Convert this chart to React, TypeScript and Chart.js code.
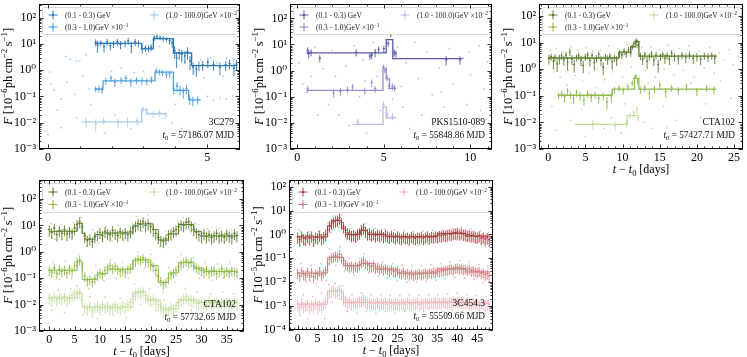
import React, { useEffect, useRef } from "react";
import { Chart, registerables } from "chart.js";

Chart.register(...registerables);

const SERIF = '"Liberation Serif", "DejaVu Serif", "Times New Roman", serif';

// ================= Panel 1 : 3C279 =================
// [t, flux, relative error]
const P1_S1: number[][] = [
  [1.5, 11.5, 0.3], [1.56, 9, 0.5], [1.66, 11, 0.25], [1.76, 8, 0.4], [1.86, 12, 0.3], [1.96, 8.5, 0.35],
  [2.06, 10, 0.3], [2.18, 12, 0.3], [2.28, 9.5, 0.35], [2.42, 10.5, 0.3], [2.52, 13, 0.3], [2.62, 8, 0.45],
  [2.74, 12, 0.3], [2.84, 10.5, 0.3], [2.96, 6.5, 0.35], [3.06, 7, 0.3], [3.16, 6.8, 0.3], [3.24, 7.5, 0.3],
  [3.34, 17, 0.25], [3.42, 19, 0.2], [3.52, 17, 0.2], [3.62, 16, 0.25], [3.72, 15, 0.2], [3.82, 13, 0.3],
  [3.9, 11, 0.35], [3.98, 5.5, 0.5], [4.04, 3, 0.6], [4.12, 4.5, 0.45], [4.2, 4, 0.5], [4.3, 3.5, 0.5],
  [4.38, 5, 0.5], [4.46, 2.2, 0.55], [4.56, 1.3, 0.5], [4.66, 1.1, 0.5], [4.74, 1.5, 0.4], [4.86, 1.6, 0.4],
  [5.02, 2.0, 0.4], [5.2, 1.6, 0.4], [5.4, 1.3, 0.5], [5.58, 1.6, 0.4], [5.7, 1.8, 0.4], [5.84, 1.2, 0.5],
  [5.92, 1.7, 0.4],
];
const P1_S1_EDGES = [1.47, 2.94, 3.31, 3.94, 4.51, 5.95];
const P1_S1_LEVELS = [10.5, 6.5, 16, 4.5, 1.5];
const P1_S2: number[][] = [
  [1.5, 0.19, 0.25], [1.6, 0.2, 0.3], [1.7, 0.18, 0.3], [1.82, 0.4, 0.3], [1.98, 0.5, 0.3], [2.1, 0.35, 0.35],
  [2.3, 0.42, 0.3], [2.45, 0.5, 0.3], [2.6, 0.36, 0.35], [2.78, 0.42, 0.3], [2.95, 0.4, 0.35], [3.1, 0.38, 0.3],
  [3.25, 0.45, 0.3], [3.4, 0.95, 0.25], [3.5, 0.85, 0.25], [3.6, 0.8, 0.25], [3.72, 0.7, 0.3], [3.82, 0.72, 0.3],
  [3.95, 0.2, 0.4], [4.05, 0.25, 0.4], [4.15, 0.18, 0.4], [4.25, 0.15, 0.45], [4.35, 0.2, 0.4], [4.45, 0.08, 0.4],
  [4.55, 0.07, 0.4], [4.7, 0.075, 0.35],
];
const P1_S2_EDGES = [1.47, 1.73, 3.36, 3.94, 4.42, 4.8];
const P1_S2_LEVELS = [0.19, 0.39, 0.85, 0.17, 0.074];
const P1_S3: number[][] = [
  [1.2, 0.011, 0.4], [1.5, 0.009, 0.5], [1.75, 0.012, 0.3], [2.2, 0.01, 0.4], [2.5, 0.011, 0.4], [2.8, 0.012, 0.35],
  [2.98, 0.034, 0.3], [3.1, 0.03, 0.3], [3.3, 0.022, 0.3], [3.5, 0.024, 0.3], [3.7, 0.02, 0.3],
];
const P1_S3_EDGES = [1.06, 2.94, 3.1, 3.73];
const P1_S3_LEVELS = [0.0108, 0.031, 0.022];
const P1_FAINT: number[][] = [
  [0.05, 0.85], [-0.1, 0.005], [0.0, 0.0035], [0.1, 0.3], [0.2, 0.18], [0.42, 0.08], [0.42, 0.0065], [0.55, 3.3],
  [0.7, 2.6], [0.9, 2.2], [1.0, 2.3], [1.2, 3.9], [1.3, 0.2], [0.6, 0.35], [0.85, 0.12], [1.1, 0.6], [1.35, 0.05],
  [2.0, 0.9], [2.3, 1.2], [2.7, 0.8], [3.0, 0.9], [1.8, 0.004], [2.6, 0.006], [3.1, 4], [3.5, 8], [4.0, 0.05],
  [4.3, 2], [4.6, 0.9], [4.8, 2.5], [5.0, 0.1], [5.2, 0.07], [5.4, 0.09], [5.6, 0.08], [5.8, 0.1], [5.95, 0.06],
  [5.1, 3], [5.3, 1.9], [5.6, 2.8], [5.85, 2.5], [3.9, 0.01], [4.2, 0.006], [3.6, 0.015], [2.1, 0.02], [0.3, 0.03],
  [0.9, 0.015], [4.9, 0.5], [5.5, 0.6],
];

// ================= Panel 2 : PKS1510-089 =================
const P2_S1: number[][] = [
  [0.6, 6, 0.3], [0.66, 4.5, 0.35], [0.8, 5, 0.3], [1.3, 3, 0.3], [3.4, 5, 0.3], [4.2, 3.6, 0.3], [4.3, 4, 0.3],
  [4.5, 5, 0.35], [4.7, 6.5, 0.3], [5.0, 7, 0.3], [5.25, 11, 0.25], [5.4, 24, 0.2], [5.6, 5, 0.3], [5.7, 4.5, 0.3],
  [8.6, 2.6, 0.4], [9.4, 2.6, 0.35],
];
const P2_S1_EDGES = [0.54, 5.14, 5.52, 9.55];
const P2_S1_LEVELS = [4.8, 15.5, 2.9];
const P2_S2: number[][] = [
  [0.6, 0.2, 0.3], [2.1, 0.14, 0.35], [2.5, 0.16, 0.35], [2.9, 0.19, 0.3], [3.2, 0.24, 0.3], [3.9, 0.17, 0.3],
  [4.3, 0.35, 0.3], [4.5, 0.2, 0.3], [4.98, 1.4, 0.2], [5.06, 1.0, 0.25], [5.18, 0.55, 0.3], [5.3, 0.26, 0.3],
  [5.5, 0.25, 0.3], [5.62, 0.22, 0.3],
];
const P2_S2_EDGES = [0.54, 4.95, 5.14, 5.33, 5.71];
const P2_S2_LEVELS = [0.175, 1.23, 0.48, 0.21];
const P2_S3: number[][] = [[3.5, 0.011, 0.3], [4.98, 0.05, 0.3], [5.2, 0.02, 0.3], [5.5, 0.018, 0.3]];
const P2_S3_EDGES = [3.22, 4.95, 5.14, 5.71];
const P2_S3_LEVELS = [0.0087, 0.042, 0.0155];
const P2_FAINT: number[][] = [
  [0.1, 2], [0.3, 0.3], [0.5, 0.15], [1.0, 8], [1.5, 1.2], [1.8, 0.05], [2.0, 6], [2.2, 0.6], [2.4, 0.02], [2.8, 1.5],
  [3.0, 0.008], [3.3, 9], [3.6, 0.1], [3.8, 2.5], [4.0, 0.004], [4.4, 12], [4.6, 0.6], [4.8, 0.03], [5.2, 30],
  [5.5, 0.08], [5.8, 8], [6.0, 0.25], [6.3, 2], [6.5, 0.006], [6.8, 12], [7.0, 0.5], [7.2, 0.02], [7.5, 5], [7.8, 0.12],
  [8.0, 0.003], [8.2, 1.3], [8.5, 0.04], [8.8, 7], [9.0, 0.3], [9.3, 0.009], [9.6, 3], [9.8, 0.05], [10.0, 0.7],
  [10.3, 0.015], [10.5, 9], [10.8, 0.2], [11.0, 2.2], [1.2, 0.02], [6.1, 0.04], [7.7, 0.002], [3.9, 0.4], [0.8, 0.6],
  [9.9, 5], [8.3, 0.15], [10.6, 0.03],
];

// ================= Panel 3 : CTA102 (first) =================
const P3_S1: number[][] = [
  [0.1, 2.5, 0.4], [0.4, 3.0, 0.3], [0.7, 2.0, 0.5], [0.9, 2.8, 0.3], [1.2, 1.6, 0.5], [1.5, 2.5, 0.4], [1.8, 3.2, 0.3],
  [2.1, 2.2, 0.4], [2.4, 3.5, 0.3], [2.6, 1.8, 0.5], [2.9, 4.5, 0.3], [3.2, 2.4, 0.4], [3.5, 1.5, 0.5], [3.8, 2.8, 0.3],
  [4.1, 3.2, 0.3], [4.4, 2.2, 0.4], [4.7, 1.4, 0.5], [5.0, 2.9, 0.3], [5.3, 3.4, 0.3], [5.6, 2.1, 0.4], [5.9, 3.3, 0.3],
  [6.2, 1.8, 0.5], [6.5, 2.6, 0.3], [6.8, 3.6, 0.3], [7.1, 2.2, 0.4], [7.4, 1.2, 0.5], [7.7, 2.9, 0.3], [8.0, 2.4, 0.4],
  [8.3, 3.1, 0.3], [8.6, 1.9, 0.5], [8.9, 2.7, 0.3], [9.2, 2.2, 0.4], [9.6, 4.0, 0.3], [9.9, 3.5, 0.3], [10.2, 4.8, 0.3],
  [10.5, 3.8, 0.3], [10.8, 5.5, 0.25], [11.1, 4.2, 0.3], [11.3, 7, 0.25], [11.5, 9, 0.2], [11.7, 11, 0.2], [11.9, 12, 0.2],
  [12.1, 8, 0.25], [12.4, 3.2, 0.3], [12.7, 2.4, 0.4], [13.0, 3.5, 0.3], [13.3, 2.0, 0.5], [13.6, 3.0, 0.3], [13.9, 3.8, 0.3],
  [14.2, 2.2, 0.4], [14.5, 3.4, 0.3], [14.8, 1.5, 0.5], [15.1, 3.0, 0.3], [15.4, 3.6, 0.3], [15.7, 2.6, 0.4], [16.0, 3.3, 0.3],
  [16.3, 2.4, 0.4], [16.6, 4.0, 0.3], [17.0, 3.0, 0.35], [17.5, 2.5, 0.4], [18.0, 3.4, 0.3], [18.5, 2.8, 0.4], [19.0, 3.5, 0.3],
  [19.5, 2.6, 0.4], [20.0, 3.0, 0.35], [20.5, 2.4, 0.4], [21.0, 3.2, 0.3], [21.5, 2.9, 0.35], [22.0, 3.3, 0.3], [22.4, 2.6, 0.4],
];
const P3_S1_EDGES = [0, 9.5, 11.1, 11.8, 12.2, 22.7];
const P3_S1_LEVELS = [2.65, 4.4, 7, 11, 3.1];
const P3_S2: number[][] = [
  [1.4, 0.1, 0.3], [1.8, 0.12, 0.3], [2.2, 0.09, 0.4], [2.6, 0.15, 0.3], [3.0, 0.11, 0.3], [3.4, 0.08, 0.4], [3.8, 0.13, 0.3],
  [4.3, 0.1, 0.35], [4.8, 0.07, 0.4], [5.3, 0.12, 0.3], [5.8, 0.09, 0.35], [6.3, 0.11, 0.3], [6.8, 0.08, 0.4], [7.4, 0.1, 0.35],
  [7.9, 0.06, 0.5], [8.5, 0.09, 0.4], [8.9, 0.17, 0.3], [9.5, 0.2, 0.3], [10.1, 0.16, 0.3], [10.7, 0.22, 0.3], [11.3, 0.3, 0.25],
  [11.6, 0.45, 0.25], [11.8, 0.55, 0.2], [12.0, 0.35, 0.25], [12.4, 0.17, 0.3], [13.0, 0.2, 0.3], [13.6, 0.12, 0.4],
  [14.3, 0.18, 0.3], [15.0, 0.25, 0.3], [15.8, 0.14, 0.4], [16.6, 0.2, 0.3], [17.5, 0.16, 0.35], [18.6, 0.22, 0.3],
  [20.0, 0.15, 0.35], [21.3, 0.2, 0.3], [22.3, 0.17, 0.35],
];
const P3_S2_EDGES = [1.3, 8.6, 11.6, 12.2, 22.6];
const P3_S2_LEVELS = [0.105, 0.18, 0.45, 0.18];
const P3_S3: number[][] = [
  [6.0, 0.009, 0.4], [9.0, 0.008, 0.4], [10.5, 0.01, 0.4], [11.0, 0.018, 0.3], [11.5, 0.022, 0.3], [11.9, 0.03, 0.3],
  [12.1, 0.015, 0.3],
];
const P3_S3_EDGES = [3.55, 10.65, 12.2];
const P3_S3_LEVELS = [0.0085, 0.018];
const P3_FAINT: number[][] = [
  [0.3, 5], [0.8, 0.8], [1.1, 6], [1.6, 0.5], [2.0, 4.5], [2.7, 0.9], [3.1, 7], [3.6, 0.6], [4.0, 5.5], [4.6, 0.35],
  [5.1, 6.5], [5.5, 0.7], [6.0, 4.8], [6.6, 1.0], [7.0, 5.2], [7.6, 0.4], [8.1, 7.5], [8.7, 0.8], [9.4, 6], [10.0, 0.5],
  [10.6, 8], [11.2, 1.2], [12.6, 6.5], [13.1, 0.9], [13.8, 7], [14.4, 0.5], [15.0, 5.5], [15.6, 1.0], [16.2, 8], [16.9, 0.6],
  [17.6, 6], [18.2, 0.9], [18.9, 7.5], [19.6, 0.5], [20.3, 5], [21.0, 1.1], [21.7, 6.5], [22.3, 0.7], [23.0, 4], [23.6, 2.2],
  [24.3, 5.5], [24.9, 1.5], [25.5, 3], [0.5, 0.04], [2.5, 0.25], [4.5, 0.03], [6.5, 0.2], [8.5, 0.015], [10.3, 0.05],
  [13.5, 0.3], [15.5, 0.04], [17.2, 0.012], [19.2, 0.3], [21.2, 0.05], [23.2, 0.35], [24.6, 0.08], [1.0, 0.005], [5.0, 0.003],
  [9.8, 0.004], [14.0, 0.006], [18.0, 0.0025], [22.0, 0.006], [25.0, 0.02], [12.8, 0.01], [16.0, 0.007], [20.5, 0.015],
  [7.5, 0.006], [3.0, 0.012], [23.8, 0.0035],
];

// ================= Panel 4 : CTA102 (second), binned =================
const P4_T = [
  0, 0.5, 1, 1.5, 2, 2.5, 3, 3.5, 4, 4.5, 5, 5.5, 6, 6.5, 7, 7.5, 8, 8.5, 9, 9.5,
  10, 10.5, 11, 11.5, 12, 12.5, 13, 13.5, 14, 14.5, 15, 15.5, 16, 16.5, 17, 17.5, 18, 18.5, 19, 19.5,
  20, 20.5, 21, 21.5, 22, 22.5, 23, 23.5, 24, 24.5, 25, 25.5, 26, 26.5, 27, 27.5, 28, 28.5, 29, 29.5,
  30, 30.5, 31, 31.5, 32, 32.5, 33, 33.5, 34, 34.5, 35, 35.5, 36, 36.5, 37,
];
const P4_S1 = [
  7, 5.5, 8, 4.5, 6.5, 5, 7, 4.8, 6, 5.2,
  8, 11, 14, 9, 4, 2.8, 3.2, 2.5, 3.8, 4.5,
  5.5, 4.2, 6, 5, 4.5, 6.5, 5, 4.2, 5.8, 4.8,
  5.5, 4.5, 6, 8, 10, 12, 11, 14, 10, 12,
  9, 7, 5, 3.5, 2.8, 2.5, 3.2, 4.5, 5, 6,
  7, 9, 11, 10, 13, 14, 10, 7, 5.5, 4.5,
  4, 5, 3.8, 4.5, 3.5, 4.2, 5, 3.8, 4.4, 3.6,
  4.8, 4, 3.5, 5, 4.2,
];
const P4_S2 = [
  0.2, 0.17, 0.24, 0.15, 0.22, 0.18, 0.21, 0.16, 0.23, 0.19,
  0.3, 0.42, 0.5, 0.3, 0.12, 0.08, 0.09, 0.075, 0.1, 0.13,
  0.16, 0.14, 0.2, 0.26, 0.3, 0.24, 0.28, 0.22, 0.18, 0.2,
  0.17, 0.22, 0.25, 0.35, 0.45, 0.55, 0.5, 0.6, 0.45, 0.4,
  0.32, 0.28, 0.2, 0.12, 0.08, 0.06, 0.07, 0.1, 0.14, 0.16,
  0.2, 0.28, 0.35, 0.4, 0.45, 0.38, 0.42, 0.3, 0.26, 0.22,
  0.2, 0.17, 0.21, 0.16, 0.19, 0.2, 0.15, 0.18, 0.22, 0.17,
  0.19, 0.16, 0.2, 0.18, 0.17,
];
const P4_S3 = [
  0.018, 0.015, 0.02, 0.016, 0.019, 0.017, 0.02, 0.015, 0.018, 0.022,
  0.025, 0.028, 0.03, 0.015, 0.008, 0.007, 0.009, 0.006, 0.008, 0.009,
  0.007, 0.01, 0.008, 0.009, 0.007, 0.008, 0.01, 0.008, 0.007, 0.009,
  0.008, 0.01, 0.012, 0.02, 0.025, 0.03, 0.028, 0.032, 0.022, 0.018,
  0.015, 0.016, 0.013, 0.01, 0.008, 0.006, 0.007, 0.006, 0.008, 0.007,
  0.009, 0.012, 0.015, 0.018, 0.02, 0.016, 0.015, 0.014, 0.012, 0.011,
  0.013, 0.012, 0.01, 0.014, 0.011, 0.012, 0.013, 0.01, 0.012, 0.011,
  0.013, 0.012, 0.01, 0.012, 0.011,
];
const P4_ERR = [0.45, 0.4, 0.45];
const P4_S1_EDGES = [0, 5.5, 6.5, 7, 9, 10.5, 16.5, 17.5, 20.5, 21.5, 23.5, 25.5, 28.5, 30, 37];
const P4_S1_LEVELS = [6, 12, 5, 3, 4.5, 5.2, 9.5, 11.5, 7, 2.8, 4.8, 11, 6, 4];
const P4_S2_EDGES = [0, 5.5, 6.5, 9.5, 11.5, 16.5, 20, 21.5, 23.5, 25.5, 28.5, 30.5, 37];
const P4_S2_LEVELS = [0.2, 0.45, 0.09, 0.15, 0.22, 0.5, 0.3, 0.07, 0.16, 0.4, 0.24, 0.18];
const P4_S3_EDGES = [0, 5.5, 6.5, 16.5, 19, 22, 25.5, 29.5, 37];
const P4_S3_LEVELS = [0.018, 0.027, 0.008, 0.03, 0.015, 0.007, 0.015, 0.012];
const P4_FAINT: number[][] = [
  [0.3, 12], [1.2, 3], [2.4, 11], [3.6, 2.6], [4.8, 13], [6.2, 20], [7.3, 1.6], [8.6, 7], [9.7, 2.2], [11.2, 9],
  [12.4, 2.6], [13.6, 10], [14.8, 2.8], [15.9, 9.5], [17.2, 22], [18.3, 6], [19.4, 25], [20.6, 4], [21.8, 1.6], [22.9, 6],
  [24.1, 2.8], [25.3, 15], [26.4, 20], [27.6, 7], [28.8, 12], [30.1, 2.2], [31.3, 7.5], [32.4, 2.3], [33.6, 8], [34.8, 2.5],
  [35.9, 7], [36.8, 2.4],
  [0.8, 0.4], [2.0, 0.09], [3.2, 0.45], [4.4, 0.1], [5.8, 0.8], [7.8, 0.04], [9.2, 0.3], [10.8, 0.08], [12.0, 0.5],
  [13.2, 0.1], [14.4, 0.4], [15.6, 0.1], [17.6, 1.0], [18.8, 0.25], [20.0, 0.8], [21.2, 0.12], [22.4, 0.03], [23.6, 0.25],
  [24.8, 0.07], [26.0, 0.8], [27.2, 0.2], [28.4, 0.6], [29.6, 0.1], [30.8, 0.4], [32.0, 0.08], [33.2, 0.35], [34.4, 0.1],
  [35.6, 0.4], [36.6, 0.09],
  [0.5, 0.006], [1.8, 0.035], [3.0, 0.005], [4.2, 0.04], [5.4, 0.05], [6.6, 0.004], [8.0, 0.02], [9.5, 0.003], [11.0, 0.02],
  [12.6, 0.004], [14.0, 0.018], [15.2, 0.003], [16.8, 0.06], [18.0, 0.01], [19.8, 0.04], [21.0, 0.006], [22.6, 0.015],
  [23.8, 0.003], [25.2, 0.012], [26.8, 0.04], [28.0, 0.006], [29.2, 0.03], [30.4, 0.005], [31.8, 0.025], [33.0, 0.005],
  [34.2, 0.03], [35.4, 0.006], [36.4, 0.025],
];

// ================= Panel 5 : 3C454.3, binned =================
const P5_T = [
  0, 0.5, 1, 1.5, 2, 2.5, 3, 3.5, 4, 4.5, 5, 5.5, 6, 6.5, 7,
  7.5, 8, 8.5, 9, 9.5, 10, 10.5, 11,
  11.5, 12, 12.5, 13, 13.5, 14, 14.5, 15, 15.5,
  16, 16.5, 17, 17.5, 18, 18.5, 19,
  19.5, 20, 20.5, 21, 21.5, 22, 22.5, 23, 23.5, 24, 24.5, 25,
  25.5, 26, 26.5, 27, 27.5, 28, 28.5, 29, 29.5, 30, 30.5, 31, 31.5, 32, 32.5, 33, 33.5, 34, 34.5, 35,
  35.5, 36, 36.5, 37, 37.5, 38, 38.5, 39, 39.5, 40, 40.5, 41, 41.5, 42,
  42.5, 43, 43.5, 44, 44.5, 45, 45.5, 46, 46.5, 47, 47.5, 48,
];
const P5_S1 = [
  0.8, 0.6, 0.9, 0.7, 0.65, 0.85, 0.7, 0.9, 0.6, 0.8, 0.75, 0.95, 0.7, 0.85, 1.0,
  1.6, 2.4, 3.0, 3.4, 3.8, 4.2, 5.0, 3.2,
  2.2, 1.5, 1.2, 1.1, 0.95, 1.0, 0.9, 1.1, 1.2,
  1.6, 1.9, 1.4, 1.1, 1.2, 1.0, 1.1,
  0.9, 1.05, 0.95, 1.1, 0.85, 1.0, 0.9, 0.8, 0.95, 0.85, 0.75, 0.9,
  0.8, 0.7, 0.85, 0.75, 0.8, 0.7, 0.85, 0.75, 0.7, 0.8, 0.75, 0.85, 0.7, 0.8, 0.9, 0.75, 0.85, 0.8, 0.9, 0.85,
  0.95, 0.9, 1.0, 0.95, 1.05, 1.1, 1.0, 1.15, 1.2, 1.25, 1.1, 1.2, 1.05, 1.1,
  0.95, 1.0, 0.9, 0.95, 0.85, 0.8, 0.9, 0.7, 0.8, 0.65, 0.75, 0.6,
];
const P5_S2 = [
  0.025, 0.018, 0.03, 0.022, 0.02, 0.028, 0.019, 0.027, 0.017, 0.024, 0.021, 0.03, 0.02, 0.026, 0.032,
  0.06, 0.09, 0.11, 0.12, 0.13, 0.12, 0.15, 0.11,
  0.08, 0.06, 0.05, 0.045, 0.05, 0.042, 0.048, 0.045, 0.055,
  0.07, 0.08, 0.065, 0.055, 0.05, 0.045, 0.05,
  0.04, 0.045, 0.038, 0.042, 0.035, 0.04, 0.034, 0.03, 0.036, 0.03, 0.028, 0.032,
  0.026, 0.024, 0.028, 0.022, 0.025, 0.021, 0.024, 0.02, 0.023, 0.022, 0.025, 0.021, 0.024, 0.026, 0.023, 0.027, 0.025, 0.028, 0.026, 0.03,
  0.028, 0.032, 0.03, 0.034, 0.033, 0.036, 0.038, 0.035, 0.04, 0.042, 0.038, 0.041, 0.036, 0.038,
  0.034, 0.036, 0.031, 0.033, 0.029, 0.027, 0.03, 0.024, 0.026, 0.021, 0.023, 0.019,
];
const P5_S3 = [
  0.0012, 0.0009, 0.0014, 0.001, 0.0011, 0.0013, 0.0009, 0.0012, 0.001, 0.0014, 0.0011, 0.0012, 0.001, 0.0013, 0.0015,
  0.003, 0.004, 0.0045, 0.005, 0.004, 0.0045, 0.005, 0.0035,
  0.0022, 0.0018, 0.0015, 0.0016, 0.0013, 0.0015, 0.0014, 0.0016, 0.0017,
  0.0018, 0.002, 0.0016, 0.0014, 0.0015, 0.0013, 0.0014,
  0.0013, 0.0015, 0.0012, 0.0014, 0.0013, 0.0015, 0.0012, 0.0014, 0.0013, 0.0012, 0.0014, 0.0013,
  0.0012, 0.0014, 0.0013, 0.0012, 0.0015, 0.0013, 0.0012, 0.0014, 0.0013, 0.0015, 0.0012, 0.0014, 0.0013, 0.0015, 0.0014, 0.0013, 0.0015, 0.0014, 0.0016, 0.0014,
  0.0015, 0.0014, 0.0016, 0.0015, 0.0014, 0.0016, 0.0015, 0.0017, 0.0016, 0.0015, 0.0017, 0.0016, 0.0015, 0.0014,
  0.0015, 0.0013, 0.0014, 0.0015, 0.0013, 0.0014, 0.0012, 0.0014, 0.0013, 0.0012, 0.0013, 0.0012,
];
const P5_ERR = [0.5, 0.45, 0.5];
const P5_S1_EDGES = [0, 7.5, 8.5, 11, 12, 15.8, 17.5, 22, 35, 42, 48];
const P5_S1_LEVELS = [0.78, 2.2, 3.8, 1.8, 1.0, 1.5, 1.0, 0.8, 1.1, 0.85];
const P5_S2_EDGES = [0, 7.5, 11.5, 15.8, 19.5, 25, 35, 42, 48];
const P5_S2_LEVELS = [0.024, 0.11, 0.05, 0.06, 0.035, 0.024, 0.036, 0.027];
const P5_S3_EDGES = [0, 7.5, 11.5, 48];
const P5_S3_LEVELS = [0.0012, 0.0042, 0.0014];
const P5_FAINT: number[][] = [
  [0.4, 1.5], [1.6, 0.4], [2.8, 1.3], [4.0, 0.35], [5.2, 1.4], [6.4, 0.4], [7.6, 3], [8.4, 1.2], [9.2, 6], [10.2, 2],
  [11.0, 6.5], [12.2, 0.7], [13.4, 1.8], [14.6, 0.5], [15.8, 2.2], [17.0, 2.8], [18.2, 0.6], [19.4, 1.8], [20.6, 0.5],
  [21.8, 1.7], [23.0, 0.45], [24.2, 1.5], [25.4, 0.4], [26.6, 1.4], [27.8, 0.35], [29.0, 1.3], [30.2, 0.35], [31.4, 1.4],
  [32.6, 0.4], [33.8, 1.5], [35.0, 0.45], [36.2, 1.6], [37.4, 0.5], [38.6, 1.9], [39.8, 0.6], [41.0, 2.0], [42.2, 0.55],
  [43.4, 1.7], [44.6, 0.45], [45.8, 1.4], [47.0, 0.3], [47.8, 1.2],
  [0.8, 0.06], [2.2, 0.01], [3.4, 0.05], [4.6, 0.009], [5.8, 0.06], [7.2, 0.012], [8.0, 0.25], [9.6, 0.05], [10.6, 0.3],
  [11.8, 0.03], [13.0, 0.1], [14.2, 0.02], [15.4, 0.1], [16.6, 0.15], [17.8, 0.025], [19.0, 0.08], [20.2, 0.018],
  [21.4, 0.07], [22.6, 0.015], [23.8, 0.06], [25.0, 0.012], [26.2, 0.05], [27.4, 0.01], [28.6, 0.05], [29.8, 0.01],
  [31.0, 0.05], [32.2, 0.011], [33.4, 0.055], [34.6, 0.012], [35.8, 0.06], [37.0, 0.014], [38.2, 0.07], [39.4, 0.016],
  [40.6, 0.08], [41.8, 0.015], [43.0, 0.07], [44.2, 0.013], [45.4, 0.055], [46.6, 0.01], [47.6, 0.045],
  [0.6, 0.0004], [1.4, 0.003], [2.6, 0.0003], [3.8, 0.0025], [5.0, 0.0005], [6.0, 0.0035], [6.8, 0.0003], [7.8, 0.008],
  [8.6, 0.0015], [9.4, 0.009], [10.4, 0.002], [11.2, 0.007], [12.4, 0.0006], [13.6, 0.003], [14.8, 0.0005], [16.0, 0.0035],
  [17.2, 0.0006], [18.4, 0.003], [19.6, 0.0005], [20.8, 0.003], [22.0, 0.0006], [23.2, 0.0028], [24.4, 0.0005],
  [25.6, 0.0028], [26.8, 0.0006], [28.0, 0.003], [29.2, 0.0005], [30.4, 0.0028], [31.6, 0.0006], [32.8, 0.003],
  [34.0, 0.0005], [35.2, 0.003], [36.4, 0.0006], [37.6, 0.0032], [38.8, 0.0007], [40.0, 0.0035], [41.2, 0.0006],
  [42.4, 0.003], [43.6, 0.0005], [44.8, 0.0028], [46.0, 0.0005], [47.2, 0.0025],
];

// ================= legend / labels =================
const LEGEND_LABELS = ["(0.1 - 0.3) GeV", "(0.3 - 1.0)GeV ×10", "(1.0 - 100.0)GeV ×10"];
const LEGEND_EXPS = ["", "−1", "−2"];

const BLUE = ["#2a75b3", "#4da3de", "#a6d0ef"];
const PURPLE = ["#5858a8", "#8f8fcf", "#bcbce4"];
const GREEN = ["#5b7d2c", "#8fbb4c", "#c4dea0"];
const RED = ["#b8383f", "#d8767f", "#f0b7bd"];

// ================= helpers =================
type Part = { t: string; it?: boolean; sup?: boolean; sub?: boolean };

function drawRich(ctx: CanvasRenderingContext2D, parts: Part[], x: number, y: number, size: number, align: string) {
  const fonts = parts.map((p) => `${p.it ? "italic " : ""}${p.sup || p.sub ? size * 0.7 : size}px ${SERIF}`);
  const widths = parts.map((p, i) => {
    ctx.font = fonts[i];
    return ctx.measureText(p.t).width;
  });
  const total = widths.reduce((a, b) => a + b, 0);
  let cx = align === "left" ? x : align === "center" ? x - total / 2 : x - total;
  ctx.textAlign = "left";
  ctx.textBaseline = "alphabetic";
  parts.forEach((p, i) => {
    ctx.font = fonts[i];
    const dy = p.sup ? -size * 0.4 : p.sub ? size * 0.22 : 0;
    ctx.fillText(p.t, cx, y + dy);
    cx += widths[i];
  });
}

const SUP: Record<string, string> = { "-": "⁻", "0": "⁰", "1": "¹", "2": "²", "3": "³", "4": "⁴", "5": "⁵", "6": "⁶", "7": "⁷", "8": "⁸", "9": "⁹" };
function decadeLabel(v: number) {
  const e = Math.round(Math.log10(v));
  return "10" + String(e).split("").map((c) => SUP[c] || c).join("");
}

function binned(t: number[], f: number[], e: number): number[][] {
  return t.map((tt, i) => [tt, f[i], e]);
}

interface SeriesCfg { pts: number[][]; edges: number[]; levels: number[]; color: string }
interface PanelCfg {
  plotLeft: number; plotRight: number; plotTop: number; plotBottom: number; canvasTop: number; canvasH: number; padRight: number;
  xMin: number; xMax: number; yMin: number; yMax: number; xMajor: number[]; xMinorStep: number; xErr: number;
  series: SeriesCfg[]; faint: number[][]; faintColor: string; name: string; t0: string; yExp: string; xTitle: boolean;
  legendH: number; row1: number; row2: number; textRight: number; blockW: number;
}

const Y_AXIS_W = 39;

const PANELS: PanelCfg[] = [
  {
    plotLeft: 39, plotRight: 241, plotTop: 1, plotBottom: 149, canvasTop: 0, canvasH: 178, padRight: 3,
    xMin: -0.28, xMax: 6.03, yMin: 1e-3, yMax: 330, xMajor: [0, 5], xMinorStep: 1, xErr: 0.035,
    series: [
      { pts: P1_S1, edges: P1_S1_EDGES, levels: P1_S1_LEVELS, color: BLUE[0] },
      { pts: P1_S2, edges: P1_S2_EDGES, levels: P1_S2_LEVELS, color: BLUE[1] },
      { pts: P1_S3, edges: P1_S3_EDGES, levels: P1_S3_LEVELS, color: BLUE[2] },
    ],
    faint: P1_FAINT, faintColor: "rgba(77,163,222,0.5)", name: "3C279", t0: "57186.07", yExp: "−6", xTitle: false,
    legendH: 27, row1: 8, row2: 20, textRight: 6, blockW: 1.3,
  },
  {
    plotLeft: 290, plotRight: 493, plotTop: 1, plotBottom: 149, canvasTop: 0, canvasH: 178, padRight: 3,
    xMin: -0.42, xMax: 11.25, yMin: 1e-3, yMax: 355, xMajor: [0, 5, 10], xMinorStep: 1, xErr: 0.07,
    series: [
      { pts: P2_S1, edges: P2_S1_EDGES, levels: P2_S1_LEVELS, color: PURPLE[0] },
      { pts: P2_S2, edges: P2_S2_EDGES, levels: P2_S2_LEVELS, color: PURPLE[1] },
      { pts: P2_S3, edges: P2_S3_EDGES, levels: P2_S3_LEVELS, color: PURPLE[2] },
    ],
    faint: P2_FAINT, faintColor: "rgba(130,130,200,0.5)", name: "PKS1510-089", t0: "55848.86", yExp: "−6", xTitle: false,
    legendH: 27, row1: 8, row2: 20, textRight: 7, blockW: 1.3,
  },
  {
    plotLeft: 539, plotRight: 745, plotTop: 1, plotBottom: 149, canvasTop: 0, canvasH: 178, padRight: 2,
    xMin: -1.24, xMax: 26.2, yMin: 1e-3, yMax: 284, xMajor: [0, 5, 10, 15, 20, 25], xMinorStep: 1, xErr: 0.12,
    series: [
      { pts: P3_S1, edges: P3_S1_EDGES, levels: P3_S1_LEVELS, color: GREEN[0] },
      { pts: P3_S2, edges: P3_S2_EDGES, levels: P3_S2_LEVELS, color: GREEN[1] },
      { pts: P3_S3, edges: P3_S3_EDGES, levels: P3_S3_LEVELS, color: GREEN[2] },
    ],
    faint: P3_FAINT, faintColor: "rgba(143,187,76,0.5)", name: "CTA102", t0: "57427.71", yExp: "−6", xTitle: true,
    legendH: 27, row1: 8, row2: 20, textRight: 8, blockW: 1.3,
  },
  {
    plotLeft: 39, plotRight: 245, plotTop: 179, plotBottom: 331, canvasTop: 176, canvasH: 181, padRight: 3,
    xMin: -2.02, xMax: 38.4, yMin: 1e-3, yMax: 530, xMajor: [0, 5, 10, 15, 20, 25, 30, 35], xMinorStep: 1, xErr: 0.25,
    series: [
      { pts: binned(P4_T, P4_S1, P4_ERR[0]), edges: P4_S1_EDGES, levels: P4_S1_LEVELS, color: GREEN[0] },
      { pts: binned(P4_T, P4_S2, P4_ERR[1]), edges: P4_S2_EDGES, levels: P4_S2_LEVELS, color: GREEN[1] },
      { pts: binned(P4_T, P4_S3, P4_ERR[2]), edges: P4_S3_EDGES, levels: P4_S3_LEVELS, color: GREEN[2] },
    ],
    faint: P4_FAINT, faintColor: "rgba(143,187,76,0.5)", name: "CTA102", t0: "57732.65", yExp: "−6", xTitle: true,
    legendH: 29, row1: 9, row2: 21.5, textRight: 8, blockW: 1.0,
  },
  {
    plotLeft: 289, plotRight: 494, plotTop: 179, plotBottom: 330, canvasTop: 176, canvasH: 181, padRight: 3,
    xMin: -2.17, xMax: 48.95, yMin: 1e-4, yMax: 190, xMajor: [0, 5, 10, 15, 20, 25, 30, 35, 40, 45], xMinorStep: 1, xErr: 0.25,
    series: [
      { pts: binned(P5_T, P5_S1, P5_ERR[0]), edges: P5_S1_EDGES, levels: P5_S1_LEVELS, color: RED[0] },
      { pts: binned(P5_T, P5_S2, P5_ERR[1]), edges: P5_S2_EDGES, levels: P5_S2_LEVELS, color: RED[1] },
      { pts: binned(P5_T, P5_S3, P5_ERR[2]), edges: P5_S3_EDGES, levels: P5_S3_LEVELS, color: RED[2] },
    ],
    faint: P5_FAINT, faintColor: "rgba(216,118,127,0.5)", name: "3C454.3", t0: "55509.66", yExp: "−5", xTitle: true,
    legendH: 29, row1: 9, row2: 21.5, textRight: 8, blockW: 1.0,
  },
];

// ================= plugins =================
const errorBarPlugin = {
  id: "errbars",
  beforeDatasetDraw(chart: any, args: any) {
    const ds = chart.data.datasets[args.index];
    if (!ds.errorBars) return;
    const ctx: CanvasRenderingContext2D = chart.ctx;
    const xs = chart.scales.x;
    const ys = chart.scales.y;
    const a = chart.chartArea;
    ctx.save();
    ctx.beginPath();
    ctx.rect(a.left, a.top, a.right - a.left, a.bottom - a.top);
    ctx.clip();
    ctx.strokeStyle = ds.errColor;
    ctx.lineWidth = 0.9;
    ctx.beginPath();
    ds.data.forEach((d: any) => {
      const px = xs.getPixelForValue(d.x);
      const py = ys.getPixelForValue(d.y);
      ctx.moveTo(px, ys.getPixelForValue(d.yMin));
      ctx.lineTo(px, ys.getPixelForValue(d.yMax));
      ctx.moveTo(xs.getPixelForValue(d.x - ds.xErr), py);
      ctx.lineTo(xs.getPixelForValue(d.x + ds.xErr), py);
    });
    ctx.stroke();
    ctx.restore();
  },
};

const decoPlugin = {
  id: "deco",
  afterDraw(chart: any) {
    const cfg: PanelCfg = chart.options.plugins.deco.cfg;
    const ctx: CanvasRenderingContext2D = chart.ctx;
    const { left, right, top, bottom } = chart.chartArea;
    const xs = chart.scales.x;
    const ys = chart.scales.y;
    ctx.save();

    // legend box
    const bx = left + 3, by = top + 3, bw = right - left - 5, bh = cfg.legendH;
    ctx.fillStyle = "rgba(255,255,255,0.85)";
    ctx.strokeStyle = "#cfcfcf";
    ctx.lineWidth = 0.8;
    ctx.beginPath();
    if ((ctx as any).roundRect) (ctx as any).roundRect(bx + 0.5, by + 0.5, bw, bh, 2);
    else ctx.rect(bx + 0.5, by + 0.5, bw, bh);
    ctx.fill();
    ctx.stroke();
    const entries = [
      { col: 0, row: 0 },
      { col: 0, row: 1 },
      { col: 1, row: 0 },
    ];
    entries.forEach((en, i) => {
      const color = cfg.series[i].color;
      const cy = by + (en.row === 0 ? cfg.row1 : cfg.row2);
      const mx = bx + (en.col === 0 ? 11 : 112);
      const tx = bx + (en.col === 0 ? 23 : 124);
      ctx.strokeStyle = color;
      ctx.lineWidth = 1;
      ctx.beginPath();
      ctx.moveTo(mx - 4.5, cy);
      ctx.lineTo(mx + 4.5, cy);
      ctx.moveTo(mx, cy - 4.5);
      ctx.lineTo(mx, cy + 4.5);
      ctx.stroke();
      ctx.fillStyle = color;
      ctx.fillRect(mx - 1, cy - 1, 2, 2);
      ctx.fillStyle = "#222";
      const parts: Part[] = [{ t: LEGEND_LABELS[i] }];
      if (LEGEND_EXPS[i]) parts.push({ t: LEGEND_EXPS[i], sup: true });
      drawRich(ctx, parts, tx, cy + 2.6, 7.5, "left");
    });

    // ticks (inward, all sides)
    ctx.strokeStyle = "#000";
    ctx.lineWidth = 0.8;
    ctx.beginPath();
    const MAJ = 4.5, MIN = 2.5;
    const k0 = Math.ceil(cfg.xMin / cfg.xMinorStep), k1 = Math.floor(cfg.xMax / cfg.xMinorStep);
    for (let k = k0; k <= k1; k++) {
      const v = k * cfg.xMinorStep;
      const isMaj = cfg.xMajor.some((m) => Math.abs(m - v) < 1e-9);
      const len = isMaj ? MAJ : MIN;
      const px = Math.round(xs.getPixelForValue(v)) + 0.5;
      ctx.moveTo(px, bottom);
      ctx.lineTo(px, bottom - len);
      ctx.moveTo(px, top);
      ctx.lineTo(px, top + len);
    }
    const e0 = Math.floor(Math.log10(cfg.yMin) + 1e-9), e1 = Math.ceil(Math.log10(cfg.yMax));
    for (let e = e0; e <= e1; e++) {
      for (let m = 1; m <= 9; m++) {
        const v = m * Math.pow(10, e);
        if (v < cfg.yMin * 0.999 || v > cfg.yMax) continue;
        const len = m === 1 ? MAJ : MIN;
        const py = Math.round(ys.getPixelForValue(v)) + 0.5;
        ctx.moveTo(left, py);
        ctx.lineTo(left + len, py);
        ctx.moveTo(right, py);
        ctx.lineTo(right - len, py);
      }
    }
    ctx.stroke();

    // frame
    ctx.lineWidth = 1;
    ctx.strokeRect(left + 0.5, top + 0.5, right - left - 1, bottom - top - 1);

    // annotation
    ctx.fillStyle = "#111";
    drawRich(ctx, [{ t: cfg.name }], right - cfg.textRight, bottom - 24, 9.5, "right");
    drawRich(ctx, [{ t: "t", it: true }, { t: "0", sub: true }, { t: " = " + cfg.t0 + " MJD" }], right - cfg.textRight, bottom - 11.5, 9.3, "right");

    // y title
    ctx.save();
    ctx.translate(left - 31, (top + bottom) / 2);
    ctx.rotate(-Math.PI / 2);
    ctx.fillStyle = "#000";
    drawRich(
      ctx,
      [
        { t: "F", it: true }, { t: " [10" }, { t: cfg.yExp, sup: true }, { t: "ph\u2009cm" }, { t: "−2", sup: true },
        { t: "\u2009s" }, { t: "−1", sup: true }, { t: "]" },
      ],
      0, 4.2, 12.5, "center"
    );
    ctx.restore();

    // x title
    if (cfg.xTitle) {
      ctx.fillStyle = "#000";
      drawRich(
        ctx,
        [{ t: "t", it: true }, { t: " − " }, { t: "t", it: true }, { t: "0", sub: true }, { t: " [days]" }],
        (left + right) / 2, bottom + 24, 12, "center"
      );
    }
    ctx.restore();
  },
};

function buildConfig(cfg: PanelCfg): any {
  const datasets: any[] = [];
  datasets.push({
    data: cfg.faint.map(([x, y]) => ({ x, y })),
    pointRadius: 0.9, pointBackgroundColor: cfg.faintColor, pointBorderWidth: 0, showLine: false, order: 3,
  });
  cfg.series.forEach((s) => {
    datasets.push({
      data: s.pts.map(([x, y, e]) => ({ x, y, yMin: Math.max(y * (1 - e), y * 0.08), yMax: y * (1 + e) })),
      errorBars: true, errColor: s.color, xErr: cfg.xErr,
      pointRadius: 0.9, pointStyle: "rect", pointBackgroundColor: s.color, pointBorderWidth: 0, showLine: false, order: 2,
    });
  });
  cfg.series.forEach((s) => {
    datasets.push({
      data: s.edges.map((x, i) => ({ x, y: s.levels[Math.min(i, s.levels.length - 1)] })),
      showLine: true, stepped: "before", borderColor: s.color, borderWidth: cfg.blockW, pointRadius: 0, fill: false, order: 1,
    });
  });
  const decades: number[] = [];
  for (let e = Math.ceil(Math.log10(cfg.yMin) - 1e-9); e <= Math.floor(Math.log10(cfg.yMax)); e++) decades.push(Math.pow(10, e));
  const padTop = cfg.plotTop - cfg.canvasTop;
  const xAxisH = cfg.canvasTop + cfg.canvasH - cfg.plotBottom;
  const tickFont = { family: SERIF, size: 12 };
  return {
    type: "scatter",
    data: { datasets },
    plugins: [errorBarPlugin, decoPlugin],
    options: {
      animation: false,
      responsive: false,
      maintainAspectRatio: false,
      devicePixelRatio: 1,
      events: [],
      layout: { padding: { top: padTop, right: cfg.padRight, left: 0, bottom: 0 } },
      plugins: { legend: { display: false }, tooltip: { enabled: false }, deco: { cfg } },
      scales: {
        x: {
          type: "linear", min: cfg.xMin, max: cfg.xMax,
          grid: { display: false, drawTicks: false }, border: { display: false },
          ticks: { color: "#000", font: tickFont, padding: 2, maxRotation: 0, autoSkip: false, callback: (v: any) => String(v) },
          afterBuildTicks: (s: any) => { s.ticks = cfg.xMajor.map((v) => ({ value: v })); },
          afterFit: (s: any) => { s.height = xAxisH; s.paddingLeft = 0; s.paddingRight = 0; },
        },
        y: {
          type: "logarithmic", min: cfg.yMin, max: cfg.yMax,
          grid: { display: false, drawTicks: false }, border: { display: false },
          ticks: { color: "#000", font: tickFont, padding: 3, autoSkip: false, callback: (v: any) => decadeLabel(Number(v)) },
          afterBuildTicks: (s: any) => { s.ticks = decades.map((v) => ({ value: v })); },
          afterFit: (s: any) => { s.width = Y_AXIS_W; s.paddingTop = 0; s.paddingBottom = 0; },
        },
      },
    },
  };
}

function Panel({ cfg }: { cfg: PanelCfg }) {
  const ref = useRef<HTMLCanvasElement>(null);
  const cw = cfg.plotRight - cfg.plotLeft + Y_AXIS_W + cfg.padRight;
  const ch = cfg.canvasH;
  useEffect(() => {
    const chart = new Chart(ref.current as HTMLCanvasElement, buildConfig(cfg));
    return () => chart.destroy();
  }, [cfg]);
  return (
    <canvas
      ref={ref}
      width={cw}
      height={ch}
      style={{ position: "absolute", left: cfg.plotLeft - Y_AXIS_W, top: cfg.canvasTop, width: cw, height: ch }}
    />
  );
}

export default function App() {
  return (
    <div style={{ position: "absolute", left: 0, top: 0, width: 747, height: 357, background: "#fff", overflow: "hidden" }}>
      {PANELS.map((p, i) => (
        <Panel key={i} cfg={p} />
      ))}
    </div>
  );
}
